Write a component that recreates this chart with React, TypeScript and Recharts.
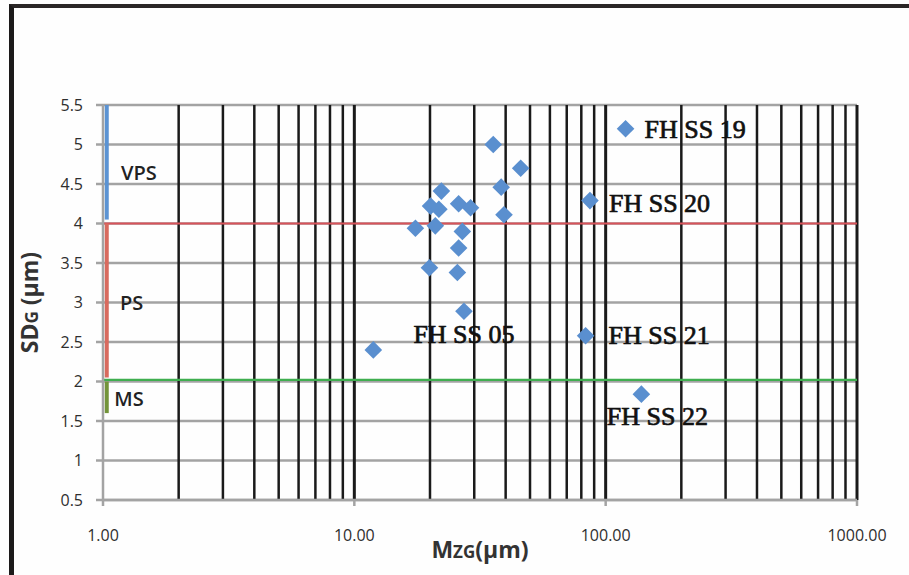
import React from "react";
import {
  ScatterChart,
  Scatter,
  XAxis,
  YAxis,
  CartesianGrid,
  ReferenceLine,
} from "recharts";

// ---- data ----
const mzValues = [35.7, 45.9, 38.4, 39.4, 22.2, 20.1, 26.0, 29.0, 21.7, 17.5, 21.0, 26.9, 26.0, 19.9, 25.7, 27.3, 11.9, 120, 86.6, 83.2, 138.7];
const sdValues = [5.0, 4.7, 4.46, 4.11, 4.41, 4.22, 4.25, 4.2, 4.18, 3.94, 3.97, 3.9, 3.69, 3.44, 3.38, 2.89, 2.4, 5.2, 4.29, 2.58, 1.84];
const sampleLabels = ["", "", "", "", "", "", "", "", "", "", "", "", "", "", "", "FH SS 05", "", "FH SS 19", "FH SS 20", "FH SS 21", "FH SS 22"];

const xTicks = [1, 10, 100, 1000];
const yTicks = [0.5, 1, 1.5, 2, 2.5, 3, 3.5, 4, 4.5, 5, 5.5];
const minorGridX = [2, 3, 4, 5, 6, 7, 8, 9, 20, 30, 40, 50, 60, 70, 80, 90, 200, 300, 400, 500, 600, 700, 800, 900];
const majorGridX = [10, 100, 1000];

// sorting class boundaries
const psLimit = 4;
const msLimit = 2.02;
const zoneX = 1.035;
const vpsSegment = [4.05, 5.5];
const psSegment = [2.05, 4.0];
const msSegment = [1.6, 2.0];
const zoneNames = ["VPS", "PS", "MS"];
const zoneMz = [1.39, 1.3, 1.27];
const zoneSd = [4.65, 3.0, 1.79];

const points = mzValues.map((x, i) => ({ x, y: sdValues[i], label: sampleLabels[i] }));
const zones = zoneNames.map((name, i) => ({ x: zoneMz[i], y: zoneSd[i], name }));

const labelPlacement: Record<string, { dx: number; dy: number; anchor: "start" | "middle" }> = {
  "FH SS 05": { dx: 0, dy: 32, anchor: "middle" },
  "FH SS 19": { dx: 19, dy: 9, anchor: "start" },
  "FH SS 20": { dx: 19, dy: 11, anchor: "start" },
  "FH SS 21": { dx: 23, dy: 8, anchor: "start" },
  "FH SS 22": { dx: 16, dy: 31, anchor: "middle" },
};

const DiamondShape = (props: any) => {
  const { cx, cy, payload } = props;
  if (cx == null || cy == null) return null;
  const h = 8.8;
  const lab = payload && payload.label;
  const pl = lab ? labelPlacement[lab] : null;
  return (
    <g>
      <polygon
        points={`${cx},${cy - h} ${cx + h},${cy} ${cx},${cy + h} ${cx - h},${cy}`}
        fill="#5a8fcf"
      />
      {pl && (
        <text
          x={cx + pl.dx}
          y={cy + pl.dy}
          textAnchor={pl.anchor}
          fontFamily="'Liberation Serif', 'Times New Roman', serif"
          fontSize={26}
          fill="#111"
          stroke="#111"
          strokeWidth={0.7}
        >
          {lab}
        </text>
      )}
    </g>
  );
};

const ZoneText = (props: any) => {
  const { cx, cy, payload } = props;
  if (cx == null || cy == null) return null;
  return (
    <text
      x={cx}
      y={cy}
      textAnchor="middle"
      dominantBaseline="central"
      fontFamily="'Open Sans', sans-serif"
      fontWeight={600}
      fontSize={20}
      fill="#222"
    >
      {payload.name}
    </text>
  );
};

const XTitle = (props: any) => {
  const vb = props.viewBox || {};
  const cx = vb.x + vb.width / 2;
  return (
    <text x={cx} y={vb.y + 58} textAnchor="middle" fontFamily="'Open Sans', sans-serif" fontWeight={700} fontSize={23} fill="#333">
      M<tspan fontSize={17}>ZG</tspan>(µm)
    </text>
  );
};

const YTitle = (props: any) => {
  const vb = props.viewBox || {};
  const cy = vb.y + vb.height / 2;
  const cx = 38;
  return (
    <text
      x={cx}
      y={cy}
      transform={`rotate(-90, ${cx}, ${cy})`}
      textAnchor="middle"
      fontFamily="'Open Sans', sans-serif"
      fontWeight={700}
      fontSize={23}
      fill="#333"
    >
      SD<tspan fontSize={17}>G</tspan> (µm)
    </text>
  );
};

export default function App() {
  return (
    <div style={{ position: "absolute", left: 0, top: 0, width: 909, height: 575, background: "#fefefe" }}>
      <div
        style={{
          position: "absolute",
          left: 9,
          top: 4,
          width: 900,
          height: 567,
          borderTop: "4px solid #2a2626",
          borderLeft: "5px solid #1c1a1a",
          borderBottom: "2px solid #bdbdbd",
        }}
      />
      <div style={{ position: "absolute", left: 0, top: 0 }}>
        <ScatterChart width={909} height={575} margin={{ top: 105, right: 52, bottom: 35, left: 43 }}>
          <CartesianGrid vertical={false} stroke="#a3a3a3" strokeWidth={2.5} />
          {minorGridX.map((v) => (
            <ReferenceLine key={"m" + v} x={v} stroke="#1a1a1a" strokeWidth={2.5} ifOverflow="visible" />
          ))}
          {majorGridX.map((v) => (
            <ReferenceLine key={"M" + v} x={v} stroke="#1a1a1a" strokeWidth={3} ifOverflow="visible" />
          ))}
          <ReferenceLine y={psLimit} stroke="#d9535a" strokeWidth={2.2} />
          <ReferenceLine y={msLimit} stroke="#3fae4f" strokeWidth={2.2} />
          <ReferenceLine segment={[{ x: zoneX, y: vpsSegment[0] }, { x: zoneX, y: vpsSegment[1] }]} stroke="#5b93d3" strokeWidth={4} />
          <ReferenceLine segment={[{ x: zoneX, y: psSegment[0] }, { x: zoneX, y: psSegment[1] }]} stroke="#d86a5e" strokeWidth={4} />
          <ReferenceLine segment={[{ x: zoneX, y: msSegment[0] }, { x: zoneX, y: msSegment[1] }]} stroke="#73943a" strokeWidth={4} />
          <XAxis
            dataKey="x"
            type="number"
            scale="log"
            domain={[1, 1000]}
            ticks={xTicks}
            allowDataOverflow
            tickFormatter={(v: number) => v.toFixed(2)}
            tick={{ fontSize: 16, fill: "#2e2e2e", fontFamily: "'Open Sans', sans-serif" }}
            stroke="#a3a3a3"
            strokeWidth={2.5}
            tickSize={6}
            tickMargin={24}
            height={40}
            label={<XTitle />}
          />
          <YAxis
            dataKey="y"
            type="number"
            domain={[0.5, 5.5]}
            ticks={yTicks}
            allowDataOverflow
            tick={{ fontSize: 16, fill: "#2e2e2e", fontFamily: "'Open Sans', sans-serif" }}
            stroke="#a3a3a3"
            strokeWidth={2.5}
            tickSize={7}
            tickMargin={13}
            width={60}
            label={<YTitle />}
          />
          <Scatter data={zones} shape={<ZoneText />} isAnimationActive={false} />
          <Scatter data={points} shape={<DiamondShape />} isAnimationActive={false} />
        </ScatterChart>
      </div>
    </div>
  );
}
